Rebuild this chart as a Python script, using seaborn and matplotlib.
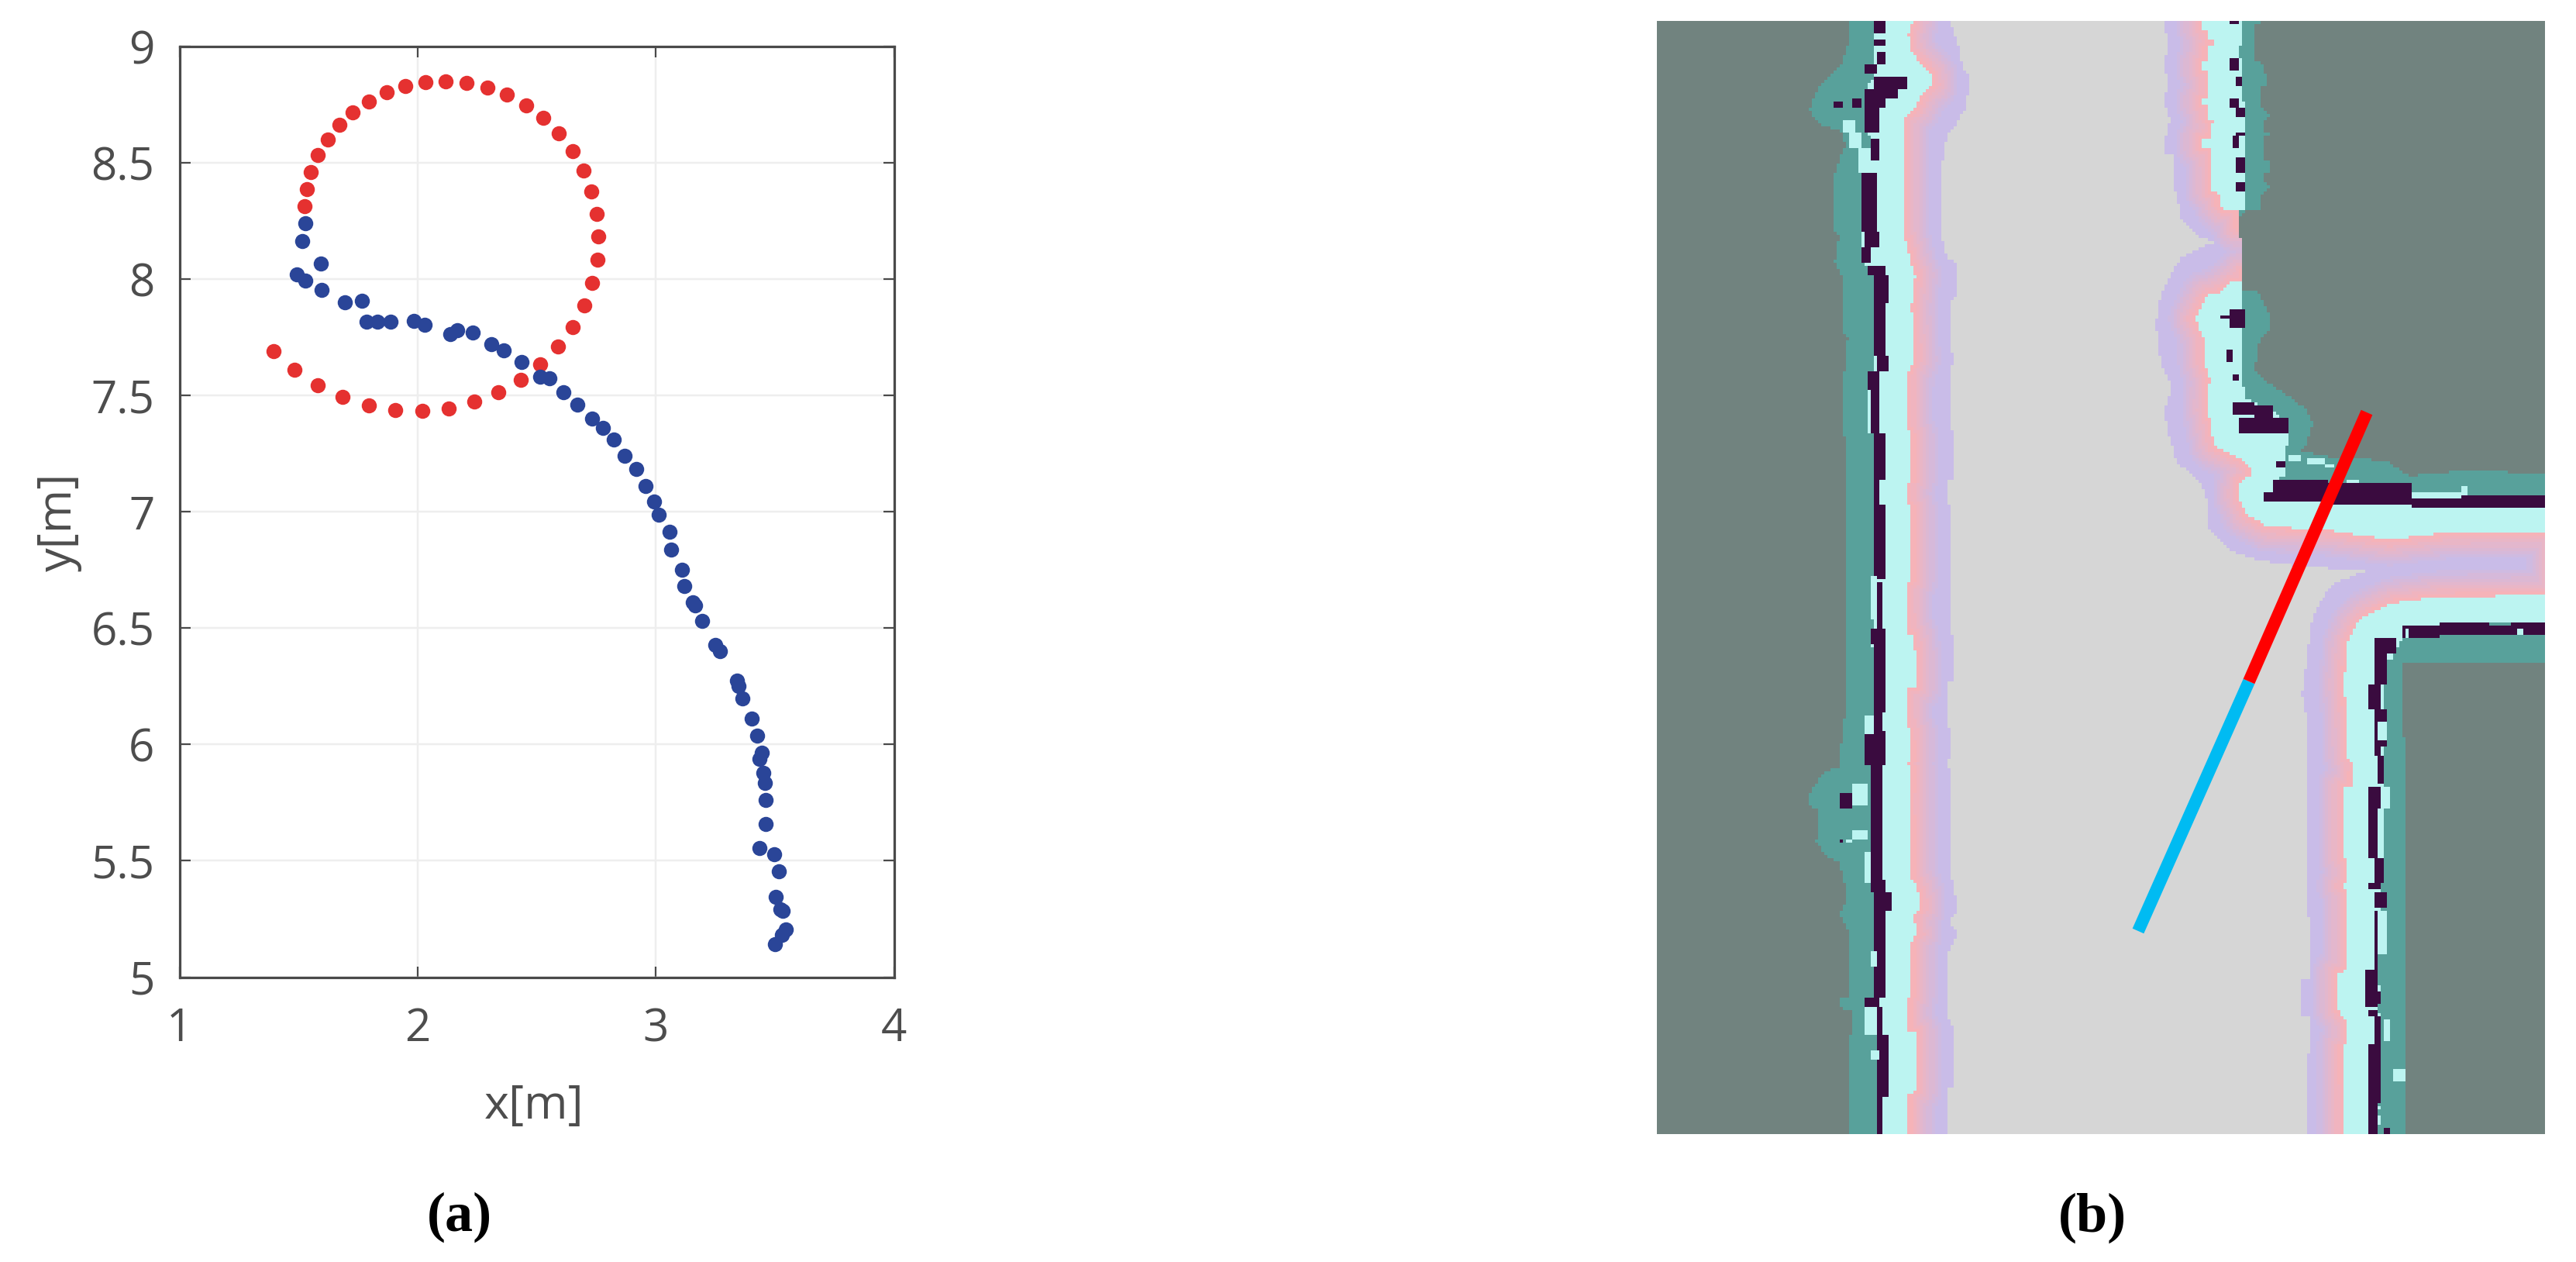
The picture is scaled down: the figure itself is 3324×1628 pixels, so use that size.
import numpy as np
import pandas as pd
import matplotlib
matplotlib.use("Agg")
import matplotlib.pyplot as plt
from matplotlib.colors import ListedColormap, to_rgb
from matplotlib.path import Path
import seaborn as sns

# ---------- panel (a): trajectory values in metres ----------
red_x = [1.396,1.484,1.582,1.686,1.795,1.907,2.020,2.131,2.238,2.338,2.433,2.516,2.590,2.651,2.699,2.733,2.754,2.760,2.752,2.730,
         2.696,2.651,2.593,2.527,2.455,2.375,2.292,2.205,2.119,2.032,1.949,1.869,1.797,1.728,1.672,1.622,1.582,1.553,1.534,1.525]
red_y = [7.692,7.612,7.545,7.494,7.458,7.438,7.435,7.446,7.474,7.514,7.568,7.636,7.712,7.796,7.888,7.985,8.083,8.183,8.282,8.377,
         8.468,8.551,8.627,8.693,8.749,8.793,8.824,8.845,8.852,8.849,8.831,8.804,8.765,8.719,8.663,8.600,8.533,8.462,8.388,8.314]
blue_x = [1.528,1.515,1.595,1.492,1.528,1.596,1.695,1.765,1.787,1.832,1.887,1.985,2.029,2.138,2.166,2.232,2.308,2.363,2.436,2.516,
          2.552,2.611,2.671,2.733,2.778,2.823,2.870,2.918,2.958,2.993,3.012,3.058,3.065,3.111,3.120,3.154,3.165,3.196,3.250,3.269,
          3.342,3.347,3.364,3.403,3.426,3.444,3.435,3.452,3.457,3.462,3.461,3.436,3.496,3.517,3.505,3.523,3.533,3.546,3.530,3.501]
blue_y = [8.242,8.164,8.067,8.021,7.996,7.954,7.901,7.907,7.817,7.819,7.818,7.821,7.804,7.763,7.780,7.770,7.720,7.693,7.643,7.581,
          7.574,7.513,7.462,7.401,7.360,7.312,7.240,7.184,7.110,7.044,6.988,6.914,6.839,6.752,6.680,6.613,6.597,6.532,6.428,6.403,
          6.276,6.253,6.198,6.111,6.039,5.964,5.939,5.878,5.835,5.763,5.658,5.555,5.527,5.454,5.344,5.290,5.286,5.205,5.180,5.143]
x_ticks = [1, 2, 3, 4]
y_ticks = [5, 5.5, 6, 6.5, 7, 7.5, 8, 8.5, 9]
x_tick_labels = ["1", "2", "3", "4"]
y_tick_labels = ["5", "5.5", "6", "6.5", "7", "7.5", "8", "8.5", "9"]

# ---------- panel (b): costmap outline ----------
free_left = [(2516,20),(2516,27),(2526,52),(2532,84),(2543,103),(2536,141),(2520,167),(2513,176),(2507,208),(2505,300),(2513,332),(2524,339),(2526,383),(2516,390),(2520,466),(2516,498),(2517,500),(2517,553),(2522,553),(2522,618),(2512,618),(2512,650),(2517,650),(2517,817),(2522,817),(2522,880),(2512,880),(2512,940),(2517,940),(2517,977),(2512,977),(2512,990),(2517,990),(2517,1133),(2522,1133),(2522,1153),(2527,1153),(2527,1172),(2515,1190),(2527,1204),(2515,1228),(2515,1305),(2511,1310),(2522,1325),(2522,1403),(2515,1403),(2515,1475)]
free_right = [(2975,1475),(2975,1360),(2980,1360),(2980,1310),(2968,1310),(2968,1263),(2980,1263),(2980,1183),(2975,1183),(2975,1100),(2977,977),(2975,920),(2970,897),(2982,803),(2993,777),(3003,763),(3017,750),(3052,737),(2945,728),(2907,721),(2880,711),(2861,693),(2847,679),(2847,643),(2838,621),(2809,596),(2800,568),(2792,532),(2803,496),(2788,471),(2782,418),(2788,382),(2801,354),(2815,332),(2832,322),(2858,313),(2833,303),(2820,287),(2813,283),(2810,253),(2805,243),(2803,200),(2793,197),(2793,183),(2800,153),(2793,133),(2797,100),(2793,87),(2797,53),(2792,27),(2792,20)]
pink_left = [(2469,20),(2469,27),(2463,46),(2467,68),(2478,80),(2492,96),(2494,109),(2484,116),(2471,141),(2457,151),(2457,300),(2463,326),(2467,342),(2472,355),(2467,396),(2471,463),(2463,482),(2462,500),(2462,553),(2467,560),(2467,620),(2462,625),(2462,650),(2467,653),(2467,750),(2462,750),(2462,817),(2468,817),(2472,843),(2472,887),(2462,887),(2462,940),(2467,943),(2467,980),(2462,983),(2467,990),(2467,1133),(2473,1140),(2478,1160),(2478,1173),(2469,1180),(2474,1204),(2467,1214),(2467,1286),(2463,1286),(2463,1330),(2472,1330),(2472,1407),(2463,1412),(2463,1475)]
pink_right = [(3023,1475),(3023,1350),(3029,1347),(3029,1317),(3023,1310),(3018,1303),(3018,1255),(3029,1252),(3029,1150),(3023,1143),(3029,1137),(3029,1110),(3024,1107),(3024,1015),(3035,1013),(3035,983),(3030,977),(3028,920),(3025,883),(3030,830),(3040,807),(3052,795),(3087,778),(3147,770),(3295,768),(3295,686),(3159,687),(3083,696),(3006,684),(2926,679),(2899,664),(2888,639),(2891,621),(2903,614),(2903,604),(2891,593),(2857,575),(2849,529),(2851,489),(2844,468),(2844,436),(2832,411),(2847,382),(2863,377),(2880,364),(2892,364),(2892,308),(2887,307),(2887,272),(2870,270),(2863,263),(2863,250),(2853,247),(2853,193),(2842,190),(2842,178),(2853,177),(2853,160),(2858,155),(2848,153),(2848,137),(2842,135),(2842,128),(2848,127),(2848,93),(2842,92),(2842,80),(2847,78),(2847,60),(2858,58),(2858,52),(2848,50),(2848,37),(2842,37),(2842,20)]
cyan_left = [(2417,20),(2417,100),(2407,116),(2407,170),(2413,179),(2413,224),(2402,224),(2402,339),(2411,345),(2417,355),(2417,480),(2411,480),(2411,560),(2417,560),(2417,813),(2412,813),(2412,833),(2417,833),(2417,943),(2407,943),(2407,987),(2412,987),(2412,1100),(2407,1100),(2407,1137),(2415,1137),(2418,1175),(2418,1286),(2407,1286),(2407,1300),(2420,1300),(2422,1335),(2422,1475)]
cyan_right = [(3068,1475),(3068,1350),(3073,1315),(3068,1300),(3068,1250),(3070,1177),(3075,1130),(3075,1010),(3075,900),(3080,855),(3090,840),(3100,825),(3105,806),(3295,803),(3295,641),(3113,635),(2932,620),(2949,614),(2949,582),(2953,564),(2953,543),(2895,511),(2891,375),(2892,364),(2892,308),(2887,307),(2887,272),(2898,270),(2898,133),(2892,130),(2892,73),(2887,73),(2887,60),(2892,60),(2892,20)]
teal_left = [(2384,20),(2384,27),(2386,52),(2375,84),(2352,106),(2340,125),(2335,141),(2346,160),(2375,170),(2381,186),(2367,224),(2367,300),(2373,305),(2367,339),(2375,355),(2379,364),(2379,430),(2384,435),(2379,486),(2378,500),(2378,563),(2383,565),(2383,925),(2378,927),(2378,960),(2373,960),(2373,990),(2357,995),(2347,1005),(2335,1023),(2335,1040),(2347,1043),(2347,1080),(2342,1083),(2355,1103),(2373,1113),(2378,1133),(2383,1157),(2374,1180),(2385,1200),(2385,1286),(2374,1286),(2374,1300),(2389,1305),(2389,1335),(2385,1335),(2385,1475)]
teal_right = [(3104,1475),(3102,853),(3295,853),(3295,611),(3178,607),(3109,614),(3083,596),(3044,591),(3006,589),(2968,582),(2976,571),(2985,546),(2976,529),(2953,511),(2926,493),(2909,479),(2914,443),(2930,421),(2926,400),(2914,377),(2893,375),(2892,364),(2892,308),(2887,307),(2887,282),(2898,272),(2918,270),(2918,250),(2930,240),(2920,235),(2920,223),(2930,223),(2930,207),(2920,205),(2920,178),(2928,173),(2920,170),(2920,157),(2930,150),(2918,137),(2918,112),(2923,110),(2923,97),(2918,80),(2908,77),(2908,33),(2920,27),(2920,20)]
# obstacle cells: x0, x1, y0, y1
obstacles = [(2417,2434,27,42),(2417,2434,53,58),(2423,2434,69,84),(2406,2423,85,97),(2417,2461,101,116),(2407,2450,116,128),(2407,2432,128,141),(2407,2425,141,170),(2367,2379,132,141),(2390,2402,128,141),(2413,2427,179,208),(2415,2427,218,221),(2402,2423,224,300),(2405,2427,300,320),(2402,2415,320,339),(2411,2432,345,355),(2417,2438,355,390),(2417,2432,390,460),(2423,2438,460,480),(2411,2427,480,503),(2412,2427,503,560),(2418,2433,560,620),(2418,2427,620,652),(2418,2433,652,747),(2423,2428,750,810),(2412,2433,813,833),(2417,2433,833,920),(2418,2428,920,943),(2407,2433,943,987),(2412,2428,987,1137),(2412,2433,1137,1153),(2418,2443,1153,1175),(2418,2433,1175,1286),(2407,2426,1286,1300),(2422,2430,1300,1335),(2422,2437,1335,1417),(2422,2430,1417,1463),(2373,2388,1023,1043),(2372,2378,1082,1088),
             (2875,2887,27,33),(2875,2887,77,93),(2886,2893,98,110),(2877,2888,128,140),(2885,2898,140,153),(2880,2887,177,192),(2885,2898,172,177),(2886,2898,205,225),(2886,2898,237,248),(2877,2897,398,423),(2865,2877,408,413),(2874,2880,453,468),(2880,2887,484,491),(2882,2907,521,536),(2907,2933,525,539),(2887,2953,539,561),(2935,2949,595,602),(2932,3006,620,640),(2920,3006,636,646),(3006,3020,625,650),(3020,3113,625,652),(3113,3175,645,654),(3175,3284,641,657),(3100,3150,808,825),(3150,3213,802,820),(3213,3242,808,818),(3242,3284,803,818),(3063,3093,823,843),(3063,3080,843,883),(3057,3073,883,917),(3063,3080,917,930),(3063,3073,930,977),(3063,3080,955,962),(3068,3075,977,1010),(3057,3073,1015,1043),(3057,3070,1043,1107),(3063,3075,1107,1138),(3057,3073,1138,1147),(3065,3079,1150,1173),(3063,3068,1177,1250),(3052,3067,1253,1300),(3067,3073,1280,1297),(3057,3067,1303,1313),(3063,3073,1313,1347),(3057,3073,1348,1422),(3058,3067,1422,1463),(3075,3085,1457,1463)]
# unoccupied specks behind the walls: x0, x1, y0, y1
specks = [(2378,2395,155,170),(2385,2400,170,190),(2398,2413,190,224),(2412,2422,745,800),(2407,2418,923,947),(2390,2410,1010,1040),(2390,2410,1072,1082),(2380,2390,1082,1086),(2407,2412,1116,1130),(2415,2422,1228,1247),(2407,2422,1300,1335),(2415,2426,1354,1369),
          (2953,2968,586,595),(2975,3002,591,600),(3002,3012,600,605),(3029,3046,618,623),(3125,3178,634,645),(3178,3185,628,640),(3249,3255,813,819),(3103,3108,813,823),(3080,3090,847,853),(3068,3080,933,957),(3075,3085,1017,1042),(3068,3073,1045,1063),(3068,3073,1078,1103),(3070,3079,1177,1232),(3067,3073,1270,1278),(3075,3085,1315,1342),(3090,3103,1380,1397),(3068,3073,1427,1433),(3068,3073,1440,1450)]
path_blue_x = [2759, 2902]
path_blue_y = [1201, 879]
path_red_x = [2902, 3054]
path_red_y = [879, 532]

# ---------- style ----------
W, H = 3324, 1628
DPI = 200
PT = 72 / DPI
sns.set_theme(style="white")
plt.rcParams["font.family"] = ["Open Sans", "DejaVu Sans"]
GREY_TEXT = "#4d4d4d"
fig = plt.figure(figsize=(W / DPI, H / DPI), dpi=DPI, facecolor="white")

def axes_rect(left, top, right, bottom):
    return [left / W, 1 - bottom / H, (right - left) / W, (bottom - top) / H]

# ---------- panel (a) ----------
ax = fig.add_axes(axes_rect(231.5, 60.3, 1153.6, 1260.5))
sns.scatterplot(data=pd.DataFrame({"x": red_x, "y": red_y}), x="x", y="y", color="#e53130",
                s=(19.5 * PT) ** 2, linewidth=0, ax=ax, zorder=3)
sns.scatterplot(data=pd.DataFrame({"x": blue_x, "y": blue_y}), x="x", y="y", color="#2a4598",
                s=(19.5 * PT) ** 2, linewidth=0, ax=ax, zorder=4)
ax.set_xlim(1, 4)
ax.set_ylim(5, 9)
ax.set_xticks(x_ticks, x_tick_labels)
ax.set_yticks(y_ticks, y_tick_labels)
ax.grid(True, color="#eeeeee", linewidth=2.5 * PT)
ax.set_axisbelow(True)
ax.tick_params(direction="in", length=14 * PT, width=2.2 * PT, color="#4a4a4a", labelcolor=GREY_TEXT,
               labelsize=21, top=True, right=True, bottom=True, left=True)
ax.tick_params(axis="x", pad=38 * PT)
ax.tick_params(axis="y", pad=32 * PT)
for spine in ax.spines.values():
    spine.set_color("#4a4a4a")
    spine.set_linewidth(3.2 * PT)
ax.set_xlabel("x[m]", fontsize=22, color=GREY_TEXT, va="baseline")
ax.xaxis.set_label_coords(0.496, -182 / 1200)
ax.set_ylabel("y[m]", fontsize=22, color=GREY_TEXT, va="center")
ax.yaxis.set_label_coords(-0.169, 0.489)

fig.text(593 / W, 1 - 1588 / H, "(a)", ha="center", va="baseline", fontsize=26, color="black",
         family=["Liberation Serif"], fontweight="bold")
fig.text(2700 / W, 1 - 1589 / H, "(b)", ha="center", va="baseline", fontsize=26, color="black",
         family=["Liberation Serif"], fontweight="bold")

# ---------- panel (b): costmap as a grid of classes ----------
MAP_L, MAP_T, MAP_R, MAP_B = 2138, 27, 3284, 1463
NX, NY = 287, 359
CW, CH = (MAP_R - MAP_L) / NX, (MAP_B - MAP_T) / NY
cx = MAP_L + (np.arange(NX) + 0.5) * CW
cy = MAP_T + (np.arange(NY) + 0.5) * CH
gx, gy = np.meshgrid(cx, cy)
centres = np.column_stack([gx.ravel(), gy.ravel()])

def inside(left, right):
    return Path(np.array(left + right, float)).contains_points(centres).reshape(NY, NX)

def outline_points(left, right):
    """Points along the two sides of a band edge, taken at about cell spacing."""
    out = []
    for side in (left, right):
        v = np.array(side, float)
        for a, b in zip(v[:-1], v[1:]):
            n = max(2, int(np.hypot(*(b - a)) / 4) + 1)
            out.append(np.linspace(a, b, n))
    return np.vstack(out)

BG, TEAL, CYAN, DARK, GREY, GRAD0 = 0, 1, 2, 3, 4, 5
N_GRAD = 8
pink, lilac = np.array(to_rgb("#f6b3b8")), np.array(to_rgb("#c9bce8"))
grad_colours = [tuple(pink + (lilac - pink) * i / (N_GRAD - 1)) for i in range(N_GRAD)]
cmap = ListedColormap(["#71837f", "#58a19b", "#bcf4f1", "#3a0b3f", "#d6d6d6"] + grad_colours)

grid = np.full((NY, NX), BG, dtype=int)
grid[inside(teal_left, teal_right)] = TEAL
grid[inside(cyan_left, cyan_right)] = CYAN
in_pink = inside(pink_left, pink_right)
in_free = inside(free_left, free_right)
band = in_pink & ~in_free

# colour of the inflation band follows the distance from the pink edge
src = outline_points(pink_left, pink_right)
opening = (src[:, 0] > 2880) & (src[:, 0] < 2900) & (src[:, 1] > 298) & (src[:, 1] < 352)
src = src[~opening]
dist = np.full(int(band.sum()), np.inf)
pts = centres[band.ravel()]
for start in range(0, len(pts), 2000):
    chunk = pts[start:start + 2000]
    d2 = ((chunk[:, None, :] - src[None, :, :]) ** 2).sum(axis=2)
    dist[start:start + 2000] = np.sqrt(d2.min(axis=1))
level = np.clip((dist / 38 * N_GRAD).astype(int), 0, N_GRAD - 1)
grid[band] = GRAD0 + level
grid[in_free] = GREY

def paint(rects, value):
    for x0, x1, y0, y1 in rects:
        grid[(gx >= x0) & (gx < x1) & (gy >= y0) & (gy < y1)] = value

paint(obstacles, DARK)
paint(specks, CYAN)

ax2 = fig.add_axes(axes_rect(MAP_L, MAP_T, MAP_R, MAP_B))
sns.heatmap(grid, ax=ax2, cmap=cmap, vmin=0, vmax=len(cmap.colors) - 1, cbar=False,
            xticklabels=False, yticklabels=False, linewidths=0, rasterized=True)

def to_cells(xs, ys):
    return (np.array(xs, float) - MAP_L) / CW, (np.array(ys, float) - MAP_T) / CH

bx, by = to_cells(path_blue_x, path_blue_y)
rx, ry = to_cells(path_red_x, path_red_y)
sns.lineplot(x=bx, y=by, color="#00bbf2", linewidth=16 * PT, sort=False, estimator=None, ax=ax2,
             solid_capstyle="butt", zorder=5)
sns.lineplot(x=rx, y=ry, color="#ff0000", linewidth=16 * PT, sort=False, estimator=None, ax=ax2,
             solid_capstyle="butt", zorder=6)
ax2.set_xlim(0, NX)
ax2.set_ylim(NY, 0)
ax2.set_xlabel("")
ax2.set_ylabel("")
ax2.set_xticks([])
ax2.set_yticks([])
for spine in ax2.spines.values():
    spine.set_visible(False)

fig.savefig("out.png", dpi=DPI, facecolor="white")
